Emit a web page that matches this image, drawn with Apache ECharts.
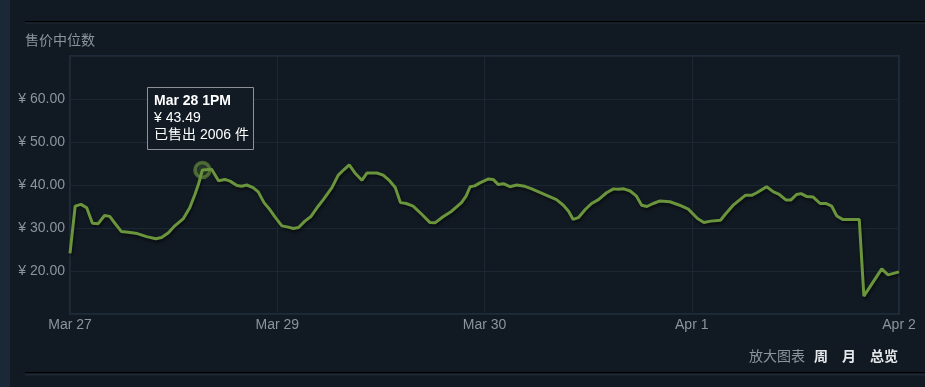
<!DOCTYPE html>
<html>
<head>
<meta charset="utf-8">
<script src="https://cdn.jsdelivr.net/npm/echarts@6/dist/echarts.min.js"></script>
<style>
html,body{margin:0;padding:0;background:#111922;}
#chart{width:925px;height:387px;}
</style>
</head>
<body>
<div id="chart"></div>
<script>
// ---- data ----
const chartTitle = '售价中位数';
const xTickLabels = ['Mar 27', 'Mar 29', 'Mar 30', 'Apr 1', 'Apr 2'];
const xMaxHours = 144;       // Mar 27 ~2PM .. Apr 2 ~2PM
const yMin = 10, yMax = 70, yStep = 10;
const hours = [0,0.9,1.9,2.9,3.9,4.9,6.0,6.9,7.8,8.9,10.1,11.7,13.3,14.9,15.9,17.1,18.2,19.7,20.8,21.7,22.3,23,24.6,25.8,26.9,27.8,29.0,29.8,30.7,31.8,32.7,33.7,34.7,35.6,36.8,37.9,38.8,39.7,40.8,41.8,42.9,44.0,45.5,46.6,47.6,48.5,49.5,50.7,51.6,53.3,54.4,55.5,56.5,57.4,58.4,59.6,61.1,62.5,63.4,64.8,66.3,68.0,68.8,69.5,70.3,71.2,72.7,73.5,74.4,75.3,76.4,77.6,79.0,80.2,81.6,83.1,84.5,85.7,86.6,87.4,88.3,89.5,90.6,91.8,93.2,94.4,95.2,96.2,97.3,98.4,99.3,100.2,101.3,102.5,104.2,105.9,107.4,109.0,110.1,111.3,113.0,113.9,115.2,117.3,118.4,119.3,121.0,122.2,123.2,124.4,125.2,126.2,127.0,128.0,129.1,130.3,131.3,132.3,133.2,134.2,135.5,137.1,137.9,141.0,142.1,144];
const prices = [24.1,35.1,35.5,34.7,31.1,31.0,32.9,32.7,31.1,29.2,29.0,28.7,28.0,27.5,27.8,28.9,30.5,32.2,34.7,37.8,40.1,43.49,43.65,41.0,41.3,40.9,39.9,39.7,40.0,39.4,38.4,35.9,34.3,32.6,30.5,30.2,29.9,30.1,31.6,32.6,34.7,36.6,39.4,42.3,43.6,44.7,42.8,41.1,42.8,42.8,42.3,41.0,39.4,35.9,35.7,35.1,33.2,31.3,31.2,32.6,33.9,35.9,37.4,39.6,39.8,40.5,41.4,41.3,40.1,40.3,39.6,40.0,39.7,39.1,38.3,37.4,36.6,35.3,33.9,32.0,32.4,34.3,35.7,36.6,38.2,39.1,39.0,39.1,38.6,37.4,35.3,35.0,35.7,36.3,36.1,35.3,34.4,32.2,31.3,31.6,31.8,33.3,35.3,37.6,37.6,38.2,39.6,38.4,37.8,36.5,36.5,37.8,38.0,37.3,37.2,35.7,35.7,35.1,32.8,32.0,32.0,32.0,14.15,20.5,19.1,19.8];
const tipIndex = 21;
const tipDate = 'Mar 28 1PM';
const tipPrice = 43.49;
const tipSold = 2006;
const zoomLabel = '放大图表';
const rangeButtons = ['周', '月', '总览'];

const FONT = '"Liberation Sans", Arial, "Noto Sans CJK SC", sans-serif';
const chart = echarts.init(document.getElementById('chart'), null, {renderer: 'canvas'});

const seriesData = hours.map((h, i) => [h, prices[i]]);

const option = {
  backgroundColor: '#111922',
  animation: false,
  textStyle: {fontFamily: FONT},
  title: {
    text: chartTitle, left: 25, top: 34, padding: 0,
    textStyle: {color: '#8b949c', fontSize: 14, fontWeight: 'normal', fontFamily: FONT}
  },
  grid: {
    left: 70, top: 56, width: 829, height: 258,
    show: true, borderColor: '#1e2b3a', borderWidth: 2, backgroundColor: 'transparent'
  },
  xAxis: {
    type: 'value', min: 0, max: xMaxHours, interval: xMaxHours / 4,
    axisLine: {show: false}, axisTick: {show: false},
    splitLine: {show: true, lineStyle: {color: '#1c2734', width: 1}},
    axisLabel: {
      color: '#8b949c', fontSize: 14, fontFamily: FONT, margin: 4,
      formatter: v => xTickLabels[Math.round(v / (xMaxHours / 4))] || ''
    }
  },
  yAxis: {
    type: 'value', min: yMin, max: yMax, interval: yStep,
    axisLine: {show: false}, axisTick: {show: false},
    splitLine: {show: true, lineStyle: {color: '#1c2734', width: 1}},
    axisLabel: {
      color: '#8b949c', fontSize: 14, fontFamily: FONT, margin: 5,
      formatter: v => (v === yMin || v === yMax) ? '' : '¥ ' + v.toFixed(2)
    }
  },
  series: [{
    type: 'line',
    data: seriesData,
    showSymbol: false,
    symbol: 'none',
    lineStyle: {
      color: '#6a953c', width: 3,
      shadowColor: 'rgba(0,0,0,0.55)', shadowBlur: 3, shadowOffsetX: 1, shadowOffsetY: 2
    },
    markPoint: {
      symbol: 'circle', symbolSize: 15,
      itemStyle: {color: 'rgba(104,143,62,0.25)', borderColor: 'rgba(104,143,62,0.65)', borderWidth: 3.5},
      label: {show: false},
      data: [{coord: [hours[tipIndex], prices[tipIndex]]}]
    }
  }],
  graphic: [
    {type: 'rect', shape: {x: 0, y: 0, width: 10, height: 387}, style: {fill: '#1b2838'}, silent: true},
    {type: 'rect', shape: {x: 25, y: 21, width: 900, height: 1.5}, style: {fill: '#000000'}, silent: true},
    {type: 'rect', shape: {x: 25, y: 22.5, width: 900, height: 1}, style: {fill: '#222e3b'}, silent: true},
    {type: 'rect', shape: {x: 25, y: 372, width: 900, height: 1.5}, style: {fill: '#000000'}, silent: true},
    {type: 'rect', shape: {x: 25, y: 373.5, width: 900, height: 2}, style: {fill: '#1e2935'}, silent: true},
    // tooltip box
    {type: 'rect', shape: {x: 147.5, y: 87.5, width: 106, height: 62},
      style: {fill: '#121a24', stroke: '#8d9196', lineWidth: 1}, z: 100},
    {type: 'text', x: 154, y: 101, z: 101,
      style: {text: tipDate, fill: '#ffffff', font: 'bold 14px ' + FONT, textVerticalAlign: 'middle'}},
    {type: 'text', x: 154, y: 118, z: 101,
      style: {text: '¥ ' + tipPrice.toFixed(2), fill: '#ffffff', font: '14px ' + FONT, textVerticalAlign: 'middle'}},
    {type: 'text', x: 154, y: 135, z: 101,
      style: {text: '已售出 ' + tipSold + ' 件', fill: '#ffffff', font: '14px ' + FONT, textVerticalAlign: 'middle'}},
    // bottom-right controls
    {type: 'text', x: 749, y: 357,
      style: {text: zoomLabel, fill: '#8b949c', font: '14px ' + FONT, textVerticalAlign: 'middle'}},
    {type: 'text', x: 814, y: 357,
      style: {text: rangeButtons[0], fill: '#e6e9ec', font: 'bold 14px ' + FONT, textVerticalAlign: 'middle'}},
    {type: 'text', x: 842, y: 357,
      style: {text: rangeButtons[1], fill: '#e6e9ec', font: 'bold 14px ' + FONT, textVerticalAlign: 'middle'}},
    {type: 'text', x: 870, y: 357,
      style: {text: rangeButtons[2], fill: '#e6e9ec', font: 'bold 14px ' + FONT, textVerticalAlign: 'middle'}}
  ]
};
chart.setOption(option);
</script>
</body>
</html>
